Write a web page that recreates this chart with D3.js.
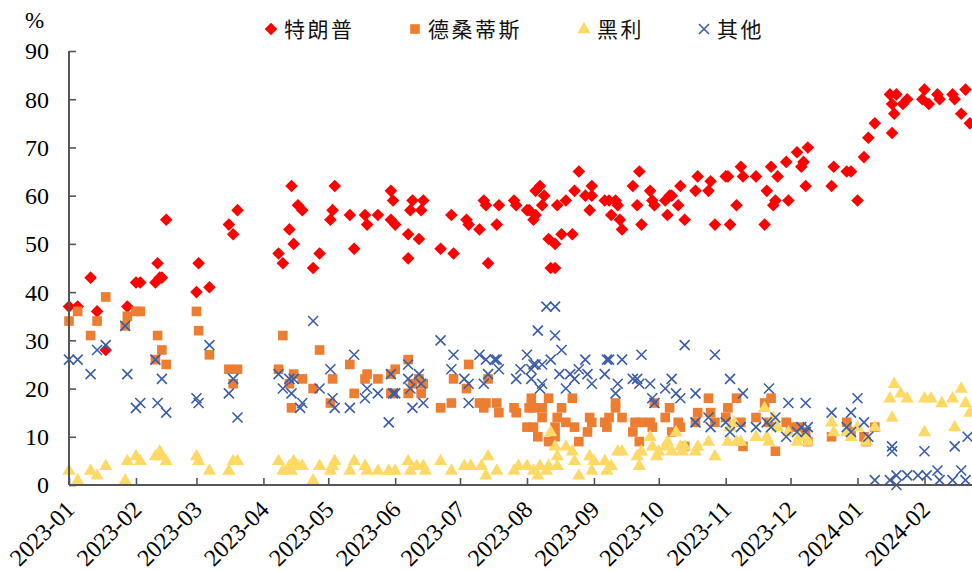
<!DOCTYPE html>
<html>
<head>
<meta charset="utf-8">
<script src="https://cdn.jsdelivr.net/npm/d3@7"></script>
<style>
  body { margin: 0; background: #fff; }
  svg { display: block; }
</style>
</head>
<body>
<div id="chart"></div>
<script>
'use strict';

const seriesNames = ['特朗普', '德桑蒂斯', '黑利', '其他'];
const seriesColors = ['#ff0000', '#ed7d31', '#ffd966', '#3a5da8'];
const yTickValues = [0, 10, 20, 30, 40, 50, 60, 70, 80, 90];
const xTickLabels = ['2023-01', '2023-02', '2023-03', '2023-04', '2023-05', '2023-06', '2023-07',
  '2023-08', '2023-09', '2023-10', '2023-11', '2023-12', '2024-01', '2024-02'];
const dateDomain = ['2023-01-01', '2024-02-23'];

// poll results, %
const trump = [
  ['2023-01-01',37],['2023-01-05',37],['2023-01-11',43],['2023-01-14',36],['2023-01-18',28],['2023-01-28',37],
  ['2023-02-01',42],['2023-02-03',42],['2023-02-10',42],['2023-02-11',46],['2023-02-12',43],['2023-02-13',43],
  ['2023-02-15',55],['2023-03-01',40],['2023-03-02',46],['2023-03-07',41],['2023-03-16',54],['2023-03-18',52],
  ['2023-03-20',57],['2023-04-08',48],['2023-04-10',46],['2023-04-13',53],['2023-04-14',62],['2023-04-15',50],
  ['2023-04-17',58],['2023-04-19',57],['2023-04-24',45],['2023-04-27',48],['2023-05-02',55],['2023-05-03',57],
  ['2023-05-04',62],['2023-05-11',56],['2023-05-13',49],['2023-05-18',56],['2023-05-19',54],['2023-05-24',56],
  ['2023-05-30',61],['2023-05-31',59],['2023-05-30',55],['2023-06-01',54],['2023-06-07',52],['2023-06-07',47],
  ['2023-06-09',59],['2023-06-08',57],['2023-06-12',51],['2023-06-14',59],['2023-06-13',57],['2023-06-22',49],
  ['2023-06-27',56],['2023-06-28',48],['2023-07-04',55],['2023-07-05',54],['2023-07-10',53],['2023-07-12',59],
  ['2023-07-13',58],['2023-07-14',46],['2023-07-18',54],['2023-07-19',58],['2023-07-26',59],['2023-07-27',58],
  ['2023-08-01',57],['2023-08-02',57],['2023-08-04',55],['2023-08-05',56],['2023-08-05',61],['2023-08-07',62],
  ['2023-08-08',58],['2023-08-09',60],['2023-08-11',51],['2023-08-14',50],['2023-08-17',52],['2023-08-12',45],
  ['2023-08-14',45],['2023-08-15',58],['2023-08-19',59],['2023-08-22',52],['2023-08-23',61],['2023-08-25',65],
  ['2023-08-28',60],['2023-08-31',60],['2023-08-31',62],['2023-08-30',57],['2023-09-06',59],['2023-09-08',59],
  ['2023-09-09',56],['2023-09-11',59],['2023-09-12',58],['2023-09-13',55],['2023-09-14',53],['2023-09-19',62],
  ['2023-09-22',65],['2023-09-21',58],['2023-09-23',54],['2023-09-27',61],['2023-09-28',59],['2023-09-29',58],
  ['2023-10-04',59],['2023-10-06',60],['2023-10-07',60],['2023-10-05',56],['2023-10-10',58],['2023-10-11',62],
  ['2023-10-13',55],['2023-10-18',61],['2023-10-19',64],['2023-10-24',61],['2023-10-25',63],['2023-10-27',54],
  ['2023-11-01',64],['2023-11-02',64],['2023-11-03',54],['2023-11-06',58],['2023-11-08',66],['2023-11-09',64],
  ['2023-11-15',64],['2023-11-19',54],['2023-11-20',61],['2023-11-22',66],['2023-11-23',58],['2023-11-24',59],
  ['2023-11-25',64],['2023-11-29',67],['2023-11-30',59],['2023-12-04',69],['2023-12-06',66],['2023-12-07',67],
  ['2023-12-09',70],['2023-12-08',62],['2023-12-20',62],['2023-12-21',66],['2023-12-27',65],['2023-12-29',65],
  ['2024-01-01',59],['2024-01-04',68],['2024-01-06',72],['2024-01-09',75],['2024-01-16',81],['2024-01-19',81],
  ['2024-01-17',79],['2024-01-18',77],['2024-01-17',73],['2024-01-22',79],['2024-01-24',80],['2024-01-31',80],
  ['2024-02-01',82],['2024-02-03',79],['2024-02-07',81],['2024-02-08',80],['2024-02-14',81],['2024-02-15',80],
  ['2024-02-18',77],['2024-02-20',82],['2024-02-22',75]
];

const desantis = [
  ['2023-01-01',34],['2023-01-05',36],['2023-01-11',31],['2023-01-14',34],['2023-01-18',39],['2023-01-28',35],
  ['2023-01-27',33],['2023-02-01',36],['2023-02-03',36],['2023-02-11',31],['2023-02-13',28],['2023-02-10',26],
  ['2023-02-15',25],['2023-03-01',36],['2023-03-02',32],['2023-03-07',27],['2023-03-16',24],['2023-03-20',24],
  ['2023-03-18',21],['2023-04-08',24],['2023-04-10',31],['2023-04-13',21],['2023-04-15',23],['2023-04-14',16],
  ['2023-04-19',22],['2023-04-24',20],['2023-04-27',28],['2023-05-03',22],['2023-05-02',17],['2023-05-11',25],
  ['2023-05-13',19],['2023-05-18',22],['2023-05-19',23],['2023-05-24',22],['2023-05-30',23],['2023-06-01',24],
  ['2023-05-30',19],['2023-05-31',19],['2023-06-07',26],['2023-06-07',19],['2023-06-09',21],['2023-06-12',22],
  ['2023-06-14',21],['2023-06-13',19],['2023-06-22',16],['2023-06-27',17],['2023-06-28',22],['2023-07-04',20],
  ['2023-07-05',25],['2023-07-10',17],['2023-07-12',16],['2023-07-13',17],['2023-07-14',22],['2023-07-18',17],
  ['2023-07-19',15],['2023-07-26',16],['2023-07-27',15],['2023-08-02',16],['2023-08-03',18],['2023-08-01',12],
  ['2023-08-04',12],['2023-08-06',10],['2023-08-04',16],['2023-08-08',16],['2023-08-08',14],['2023-08-11',18],
  ['2023-08-11',9],['2023-08-14',12],['2023-08-15',14],['2023-08-17',16],['2023-08-14',10],['2023-08-19',13],
  ['2023-08-23',12],['2023-08-22',18],['2023-08-25',9],['2023-08-30',14],['2023-08-31',13],['2023-08-29',11],
  ['2023-09-06',13],['2023-09-07',12],['2023-09-08',14],['2023-09-11',16],['2023-09-11',17],['2023-09-14',14],
  ['2023-09-19',11],['2023-09-22',9],['2023-09-20',13],['2023-09-23',13],['2023-09-27',13],['2023-09-28',12],
  ['2023-09-29',17],['2023-10-04',14],['2023-10-06',16],['2023-10-07',11],['2023-10-10',13],['2023-10-11',12],
  ['2023-10-13',8],['2023-10-19',15],['2023-10-18',13],['2023-10-24',18],['2023-10-25',15],['2023-10-27',13],
  ['2023-11-01',14],['2023-11-02',16],['2023-11-06',18],['2023-11-08',13],['2023-11-09',8],['2023-11-15',14],
  ['2023-11-19',17],['2023-11-22',18],['2023-11-21',13],['2023-11-24',7],['2023-11-29',13],['2023-12-01',12],
  ['2023-12-05',12],['2023-12-08',11],['2023-12-09',9],['2023-12-20',10],['2023-12-27',13],['2023-12-29',11],
  ['2024-01-04',10],['2024-01-09',12],['2024-01-05',9]
];

const haley = [
  ['2023-01-01',3],['2023-01-05',1],['2023-01-11',3],['2023-01-14',2],['2023-01-18',4],['2023-01-27',1],
  ['2023-01-28',5],['2023-02-01',6],['2023-02-03',5],['2023-02-10',6],['2023-02-12',7],['2023-02-13',6],
  ['2023-02-15',5],['2023-03-01',6],['2023-03-02',5],['2023-03-07',3],['2023-03-16',3],['2023-03-18',5],
  ['2023-03-20',5],['2023-04-08',5],['2023-04-10',3],['2023-04-13',4],['2023-04-15',5],['2023-04-14',3],
  ['2023-04-17',4],['2023-04-19',4],['2023-04-24',1],['2023-04-27',4],['2023-05-02',3],['2023-05-03',4],
  ['2023-05-04',5],['2023-05-11',3],['2023-05-13',5],['2023-05-18',4],['2023-05-19',3],['2023-05-24',3],
  ['2023-05-29',3],['2023-06-01',3],['2023-06-07',5],['2023-06-08',3],['2023-06-11',4],['2023-06-14',4],
  ['2023-06-15',3],['2023-06-22',5],['2023-06-27',3],['2023-07-03',4],['2023-07-06',4],['2023-07-11',4],
  ['2023-07-14',6],['2023-07-13',2],['2023-07-18',3],['2023-07-26',3],['2023-07-28',4],['2023-08-01',4],
  ['2023-08-04',3],['2023-08-06',2],['2023-08-07',4],['2023-08-10',3],['2023-08-11',4],['2023-08-12',11],
  ['2023-08-14',8],['2023-08-15',6],['2023-08-15',4],['2023-08-19',8],['2023-08-22',7],['2023-08-23',5],
  ['2023-08-25',2],['2023-08-30',6],['2023-09-01',5],['2023-08-31',3],['2023-09-06',5],['2023-09-09',4],
  ['2023-09-07',3],['2023-09-12',7],['2023-09-14',7],['2023-09-21',6],['2023-09-22',4],['2023-09-23',7],
  ['2023-09-27',10],['2023-09-28',8],['2023-09-30',6],['2023-10-05',9],['2023-10-09',11],['2023-10-04',8],
  ['2023-10-11',8],['2023-10-13',8],['2023-10-01',7],['2023-10-07',7],['2023-10-12',7],['2023-10-18',7],
  ['2023-10-19',8],['2023-10-24',9],['2023-10-27',6],['2023-11-02',9],['2023-11-06',9],['2023-11-03',12],
  ['2023-11-05',13],['2023-11-08',9],['2023-11-15',10],['2023-11-20',10],['2023-11-21',9],['2023-11-19',16],
  ['2023-11-23',14],['2023-11-25',12],['2023-11-30',11],['2023-12-04',9],['2023-12-05',10],['2023-12-08',10],
  ['2023-12-09',9],['2023-12-20',13],['2023-12-21',11],['2023-12-27',11],['2023-12-29',10],['2024-01-01',12],
  ['2024-01-05',9],['2024-01-09',12],['2024-01-18',21],['2024-01-16',18],['2024-01-21',19],['2024-01-24',18],
  ['2024-01-17',14],['2024-02-01',18],['2024-02-04',18],['2024-02-09',17],['2024-02-01',11],['2024-02-14',18],
  ['2024-02-18',20],['2024-02-15',12],['2024-02-20',17],['2024-02-22',15]
];

const others = [
  ['2023-01-01',26],['2023-01-05',26],['2023-01-11',23],['2023-01-14',28],['2023-01-18',29],['2023-01-27',33],
  ['2023-01-28',23],['2023-02-01',16],['2023-02-03',17],['2023-02-10',26],['2023-02-11',17],['2023-02-15',15],
  ['2023-02-13',22],['2023-03-01',18],['2023-03-02',17],['2023-03-07',29],['2023-03-16',19],['2023-03-18',22],
  ['2023-03-20',14],['2023-04-08',23],['2023-04-10',20],['2023-04-13',22],['2023-04-14',19],['2023-04-15',22],
  ['2023-04-18',16],['2023-04-19',17],['2023-04-24',34],['2023-04-27',20],['2023-05-02',24],['2023-05-03',18],
  ['2023-05-04',16],['2023-05-11',16],['2023-05-13',27],['2023-05-18',18],['2023-05-19',20],['2023-05-24',19],
  ['2023-05-29',13],['2023-05-30',23],['2023-05-31',19],['2023-06-01',19],['2023-06-07',25],['2023-06-07',22],
  ['2023-06-08',20],['2023-06-09',16],['2023-06-12',23],['2023-06-13',21],['2023-06-14',17],['2023-06-22',30],
  ['2023-06-28',27],['2023-06-27',24],['2023-07-03',22],['2023-07-05',21],['2023-07-05',17],['2023-07-10',27],
  ['2023-07-13',26],['2023-07-14',23],['2023-07-12',21],['2023-07-17',26],['2023-07-18',26],['2023-07-19',24],
  ['2023-07-27',22],['2023-07-29',24],['2023-08-01',27],['2023-08-03',24],['2023-08-04',25],['2023-08-05',25],
  ['2023-08-03',22],['2023-08-08',21],['2023-08-06',32],['2023-08-07',20],['2023-08-08',25],['2023-08-12',26],
  ['2023-08-10',37],['2023-08-14',37],['2023-08-14',31],['2023-08-17',28],['2023-08-16',23],['2023-08-19',20],
  ['2023-08-21',23],['2023-08-23',22],['2023-08-25',24],['2023-08-28',26],['2023-08-29',23],['2023-08-31',21],
  ['2023-09-06',23],['2023-09-07',26],['2023-09-08',26],['2023-09-12',21],['2023-09-11',19],['2023-09-14',26],
  ['2023-09-19',22],['2023-09-21',22],['2023-09-22',21],['2023-09-23',27],['2023-09-27',21],['2023-09-29',17],
  ['2023-09-28',18],['2023-10-04',20],['2023-10-07',22],['2023-10-09',19],['2023-10-11',18],['2023-10-13',29],
  ['2023-10-27',27],['2023-10-18',19],['2023-10-18',13],['2023-10-24',14],['2023-10-25',12],['2023-11-03',22],
  ['2023-11-09',19],['2023-11-01',13],['2023-11-03',11],['2023-11-08',12],['2023-11-15',12],['2023-11-21',20],
  ['2023-11-20',13],['2023-11-22',12],['2023-11-24',14],['2023-11-30',17],['2023-11-29',10],['2023-12-04',11],
  ['2023-12-06',12],['2023-12-08',11],['2023-12-09',12],['2023-12-08',17],['2023-12-20',15],['2023-12-29',15],
  ['2023-12-27',12],['2023-12-29',11],['2024-01-01',18],['2024-01-04',13],['2024-01-06',10],['2024-01-09',1],
  ['2024-01-17',8],['2024-01-17',7],['2024-01-16',1],['2024-01-19',2],['2024-01-19',0],['2024-01-24',2],
  ['2024-01-29',2],['2024-02-02',2],['2024-02-01',7],['2024-02-07',3],['2024-02-08',1],['2024-02-14',1],
  ['2024-02-15',8],['2024-02-18',3],['2024-02-20',1],['2024-02-21',10]
];

const seriesData = [trump, desantis, haley, others];
const markerTypes = ['diamond', 'square', 'triangle', 'cross'];

const width = 972;
const height = 571;
const margin = { top: 51, right: 0, bottom: 86, left: 69 };

const parseDay = d3.timeParse('%Y-%m-%d');
const parseMonth = d3.timeParse('%Y-%m');
const numFont = '"Liberation Serif", "Times New Roman", serif';
const cjkFont = '"Noto Sans CJK SC", sans-serif';
const axisColor = '#555';

const svg = d3.select('#chart').append('svg')
  .attr('width', width)
  .attr('height', height);

const x = d3.scaleTime()
  .domain(dateDomain.map(parseDay))
  .range([margin.left, width - margin.right]);

const y = d3.scaleLinear()
  .domain([0, 90])
  .range([height - margin.bottom, margin.top]);

function marker(sel, type, color) {
  if (type === 'diamond') {
    sel.append('path').attr('d', 'M0,-6.3L6.3,0L0,6.3L-6.3,0Z').attr('fill', color);
  } else if (type === 'square') {
    sel.append('rect').attr('x', -4.8).attr('y', -4.8).attr('width', 9.6).attr('height', 9.6)
      .attr('fill', color);
  } else if (type === 'triangle') {
    sel.append('path').attr('d', 'M0,-7.2L6.6,4.2L-6.6,4.2Z').attr('fill', color);
  } else {
    sel.append('path').attr('d', 'M-5,-5L5,5M5,-5L-5,5')
      .attr('stroke', color).attr('stroke-width', 1.6).attr('fill', 'none');
  }
}

// points
seriesData.forEach((data, i) => {
  svg.append('g')
    .attr('class', 'series')
    .selectAll('g')
    .data(data)
    .join('g')
      .attr('transform', (d) => `translate(${x(parseDay(d[0]))},${y(d[1])})`)
      .each(function () {
        marker(d3.select(this), markerTypes[i], seriesColors[i]);
      });
});

// y axis
const yAxis = svg.append('g')
  .attr('transform', `translate(${margin.left},0)`)
  .call(d3.axisRight(y).tickValues(yTickValues).tickSize(7).tickFormat(d3.format('d')));
yAxis.select('.domain').attr('stroke', axisColor).attr('stroke-width', 2)
  .attr('d', `M0,${y(90)}V${y(0)}`);
yAxis.selectAll('.tick line').attr('stroke', axisColor).attr('stroke-width', 1.6);
yAxis.selectAll('.tick text')
  .attr('x', -20)
  .attr('dy', '0.33em')
  .attr('text-anchor', 'end')
  .attr('fill', '#000')
  .style('font-family', numFont)
  .style('font-size', '24px');

// x axis
const xAxis = svg.append('g')
  .attr('transform', `translate(0,${y(0)})`)
  .call(d3.axisTop(x).tickValues(xTickLabels.map(parseMonth)).tickSize(7).tickFormat(''));
xAxis.select('.domain').attr('stroke', axisColor).attr('stroke-width', 2)
  .attr('d', `M${margin.left},0H${width}`);
xAxis.selectAll('.tick line').attr('stroke', axisColor).attr('stroke-width', 1.6);

svg.append('g')
  .selectAll('text')
  .data(xTickLabels)
  .join('text')
    .attr('transform', (d) => `translate(${x(parseMonth(d)) + 7},${y(0) + 26}) rotate(-45)`)
    .attr('text-anchor', 'end')
    .style('font-family', numFont)
    .style('font-size', '24px')
    .text((d) => d);

// unit label
svg.append('text')
  .attr('x', 25)
  .attr('y', 28)
  .style('font-family', numFont)
  .style('font-size', '23px')
  .text('%');

// legend
const legendX = [271, 415, 584, 704];
const legend = svg.append('g').attr('class', 'legend');
seriesNames.forEach((name, i) => {
  const item = legend.append('g').attr('transform', `translate(${legendX[i]},29)`);
  marker(item, markerTypes[i], seriesColors[i]);
  item.append('text')
    .attr('x', 13)
    .attr('dy', '0.36em')
    .style('font-family', cjkFont)
    .style('font-size', '21px')
    .style('letter-spacing', '2.5px')
    .attr('fill', '#111')
    .text(name);
});
</script>
</body>
</html>
